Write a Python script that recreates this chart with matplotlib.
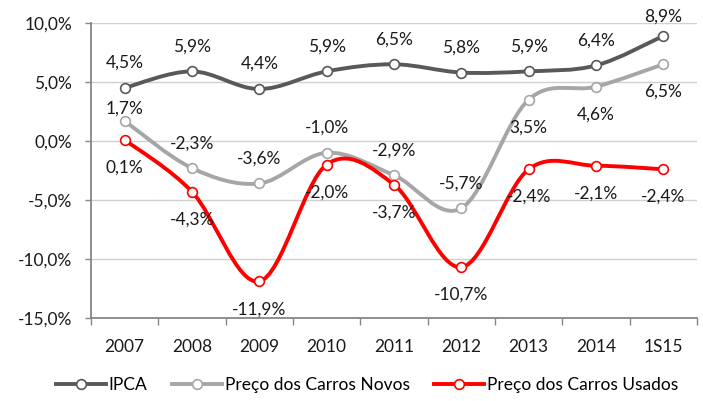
import numpy as np
import matplotlib
matplotlib.use("Agg")
import matplotlib.pyplot as plt
from matplotlib.path import Path
from matplotlib.patches import PathPatch
from matplotlib.lines import Line2D

plt.rcParams['font.family'] = ['Lato', 'DejaVu Sans']

categories = ["2007", "2008", "2009", "2010", "2011", "2012", "2013", "2014", "1S15"]
ipca = [4.5, 5.9, 4.4, 5.9, 6.5, 5.8, 5.9, 6.4, 8.9]
novos = [1.7, -2.3, -3.6, -1.0, -2.9, -5.7, 3.5, 4.6, 6.5]
usados = [0.1, -4.3, -11.9, -2.0, -3.7, -10.7, -2.4, -2.1, -2.4]

# label placement: +1 above, -1 below
ipca_pos = [1, 1, 1, 1, 1, 1, 1, 1, 1]
novos_pos = [1, 1, 1, 1, 1, 1, -1, -1, -1]
usados_pos = [-1, -1, -1, -1, -1, -1, -1, -1, -1]

FS = 12.5


def smooth_path(x, y):
    # Excel-style smoothed line as cubic bezier segments
    pts = np.column_stack([x, y]).astype(float)
    n = len(pts)
    verts = [pts[0]]
    codes = [Path.MOVETO]
    for i in range(n - 1):
        p0 = pts[i - 1] if i > 0 else pts[i]
        p1 = pts[i]
        p2 = pts[i + 1]
        p3 = pts[i + 2] if i + 2 < n else pts[i + 1]
        c1 = p1 + (p2 - p0) / 6
        c2 = p2 - (p3 - p1) / 6
        verts += [c1, c2, p2]
        codes += [Path.CURVE4] * 3
    return Path(verts, codes)


fig = plt.figure(figsize=(7.03, 4.01), dpi=100)
ax = fig.add_axes([0.1294, 0.207, 0.862, 0.7357])

x = np.arange(len(categories))
series = [
    ("IPCA", ipca, "#595959", ipca_pos),
    ("Preço dos Carros Novos", novos, "#A6A6A6", novos_pos),
    ("Preço dos Carros Usados", usados, "#FF0000", usados_pos),
]

handles = []
for name, vals, col, pos in series:
    ax.add_patch(PathPatch(smooth_path(x, vals), facecolor="none", edgecolor=col,
                           lw=2.8, capstyle="round", joinstyle="round", zorder=3))
    ax.plot(x, vals, "o", ms=7, mfc="white", mec=col, mew=1.2, zorder=4)
    for xi, v, p in zip(x, vals, pos):
        off = 18 if p > 0 else -20
        if name.startswith("Preço dos Carros Novos") and xi == 0:
            off = 9
        if name == "IPCA" and xi == len(x) - 1:
            off = 14
        ax.annotate(f"{v:.1f}%".replace(".", ","), (xi, v), xytext=(0, off),
                    textcoords="offset points", ha="center", va="center",
                    fontsize=FS, color="#1a1a1a", zorder=5)
    handles.append(Line2D([0], [0], color=col, lw=2.8, marker="o", ms=7,
                          mfc="white", mec=col, mew=1.2))

ax.set_xlim(-0.5, len(categories) - 0.5)
ax.set_ylim(-15, 10)
ax.set_yticks(np.arange(-15, 10.1, 5))
ax.set_yticklabels([f"{t:.1f}%".replace(".", ",") for t in np.arange(-15, 10.1, 5)])
ax.set_xticks(x)
ax.set_xticklabels(categories)
ax.set_xticks(np.arange(-0.5, len(categories)), minor=True)
ax.tick_params(axis="x", which="major", length=0, pad=15, labelsize=FS, colors="#1a1a1a")
ax.tick_params(axis="x", which="minor", length=5, width=1, color="#868686")
ax.tick_params(axis="y", length=4.5, width=1, color="#868686", pad=9,
               labelsize=FS, labelcolor="#1a1a1a")

ax.grid(axis="y", color="#D0D0D0", lw=1)
ax.set_axisbelow(True)
for s in ["top", "right"]:
    ax.spines[s].set_visible(False)
for s in ["left", "bottom"]:
    ax.spines[s].set_color("#868686")
    ax.spines[s].set_linewidth(1.3)

fig.legend(handles, [s[0] for s in series], loc="center", bbox_to_anchor=(0.522, 0.04),
           ncol=3, frameon=False, fontsize=FS, handlelength=2.9, columnspacing=1.4,
           handletextpad=0.15)

fig.savefig("out.png", dpi=100)
